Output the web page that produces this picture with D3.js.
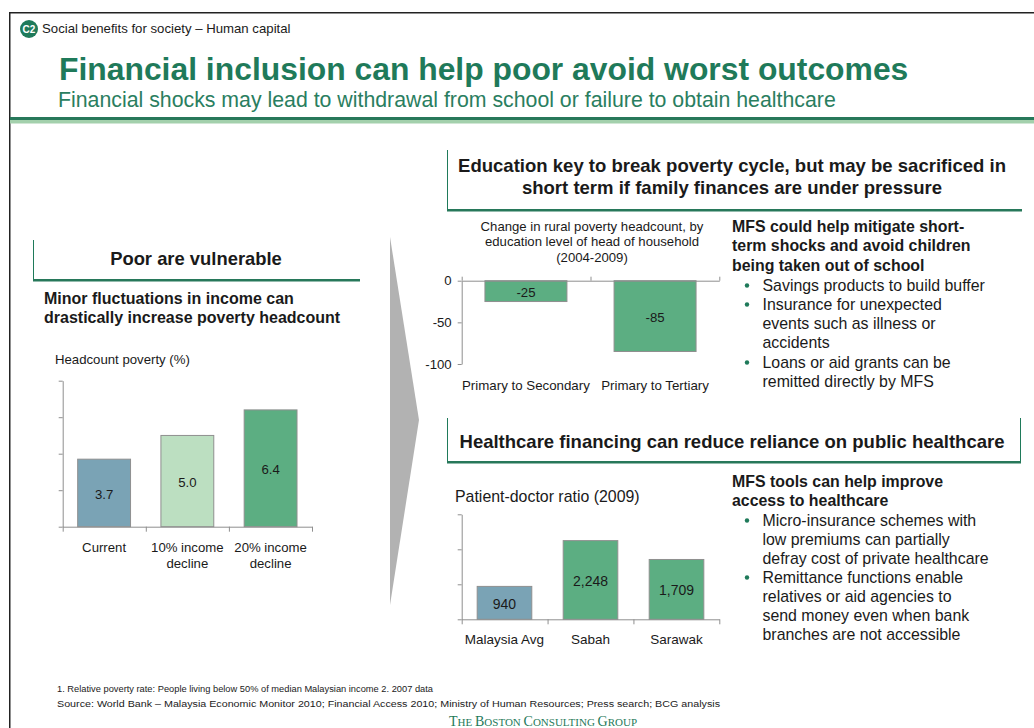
<!DOCTYPE html>
<html><head><meta charset="utf-8">
<script src="https://cdn.jsdelivr.net/npm/d3@7"></script>
<style>
html,body{margin:0;padding:0;background:#fff}
svg{display:block}
text{font-family:"Liberation Sans",Arial,sans-serif;fill:#1a1a1a}
</style></head><body><div id="c"></div>
<script>
// ---- data ----
const povertyCategories = [["Current"],["10% income","decline"],["20% income","decline"]];
const povertyValues = [3.7,5.0,6.4];
const povertyLabels = ["3.7","5.0","6.4"];
const povertyTicks = [0,2,4,6,8];
const eduCategories = ["Primary to Secondary","Primary to Tertiary"];
const eduValues = [-25,-85];
const eduTicks = [0,-50,-100];
const doctorCategories = ["Malaysia Avg","Sabah","Sarawak"];
const doctorValues = [940,2248,1709];
const doctorTicks = [0,1000,2000,3000];

const BLUE="#7aa3b5", LIGHT="#bcdfc1", GREEN="#5cae82", AXIS="#8f8f8f", DARK="#1f7a5a";

const svg=d3.select("#c").append("svg").attr("width",1034).attr("height",728);

function txt(x,y,s,size,o={}){
  const t=svg.append("text").attr("x",x).attr("y",y).attr("font-size",size).text(s)
    .attr("text-anchor",o.anchor||"start").attr("font-weight",o.bold?"bold":"normal");
  if(o.fill) t.style("fill",o.fill);
  if(o.len) t.attr("textLength",o.len).attr("lengthAdjust","spacingAndGlyphs");
  if(o.font) t.style("font-family",o.font);
  return t;
}
function rect(x,y,w,h,f){svg.append("rect").attr("x",x).attr("y",y).attr("width",w).attr("height",h).attr("fill",f);}

// frame and header
rect(9,12,1025,1.5,"#222"); rect(9,12,1.5,716,"#222");
rect(10,117,1024,3,"#27785a"); rect(10,120,1024,3.5,"#a3d0ac");
svg.append("circle").attr("cx",29).attr("cy",29).attr("r",9).attr("fill",DARK);
txt(29,32.5,"C2",10,{anchor:"middle",bold:true,fill:"#fff"});
txt(42,33,"Social benefits for society – Human capital",13.2);
txt(59,79.5,"Financial inclusion can help poor avoid worst outcomes",31.85,{bold:true,fill:DARK});
txt(58,106.5,"Financial shocks may lead to withdrawal from school or failure to obtain healthcare",21.3,{fill:"#2a7e60"});

// section heads
function head(x0,x1,y0,y1,right){
  rect(x0,y0,1,y1-y0,DARK); if(right) rect(x1-1,y0,1,y1-y0,DARK);
  rect(x0,y1-2,x1-x0,2.5,"#27785a");
}
head(33,360,240,281);
head(447,1022,150,211);
head(447,1021,418,463,true);
txt(196,265,"Poor are vulnerable",18.4,{anchor:"middle",bold:true});
txt(732,172,"Education key to break poverty cycle, but may be sacrificed in",18.55,{anchor:"middle",bold:true});
txt(732,194,"short term if family finances are under pressure",18.55,{anchor:"middle",bold:true});
txt(732,448,"Healthcare financing can reduce reliance on public healthcare",18.5,{anchor:"middle",bold:true});

// arrow
svg.append("path").attr("d",d3.line()([[390,237],[419,420],[390,605]])+"Z").attr("fill","#b2b2b2");

txt(44,304,"Minor fluctuations in income can",16,{bold:true});
txt(44,323,"drastically increase poverty headcount",16,{bold:true});

// side text
const lines1=[["MFS could help mitigate short-",231.5,1],["term shocks and avoid children",251,1],["being taken out of school",270.5,1],
 ["Savings products to build buffer",290.5,0,1],["Insurance for unexpected",309.5,0,1],["events such as illness or",328.5,0],["accidents",347.5,0],["Loans or aid grants can be",367.5,0,1],["remitted directly by MFS",386.5,0]];
const lines2=[["MFS tools can help improve",486.5,1],["access to healthcare",506,1],
 ["Micro-insurance schemes with",525.5,0,1],["low premiums can partially",544.5,0],["defray cost of private healthcare",563.5,0],
 ["Remittance functions enable",582.5,0,1],["relatives or aid agencies to",601.5,0],["send money even when bank",620.5,0],["branches are not accessible",639.5,0]];
lines1.concat(lines2).forEach(([s,y,b,bul])=>{
  if(b) txt(732,y,s,15.9,{bold:true});
  else { txt(762.5,y,s,15.9);
    if(bul) svg.append("circle").attr("cx",747).attr("cy",y-5).attr("r",2.2).attr("fill",DARK); }
});

function style(g){
  g.selectAll("path.domain").attr("stroke",AXIS).attr("stroke-width",1);
  g.selectAll(".tick line").attr("stroke",AXIS).attr("stroke-width",1);
  g.selectAll("text").style("font-family",'"Liberation Sans",Arial,sans-serif').style("fill","#1a1a1a");
}
function bars(x,y,vals,colors,labels,size){
  const base=y(0);
  svg.append("g").selectAll("rect").data(vals).join("rect")
    .attr("x",(d,i)=>x(i)).attr("width",x.bandwidth())
    .attr("y",d=>Math.min(y(d),base)).attr("height",d=>Math.abs(y(d)-base))
    .attr("fill",(d,i)=>colors[i]).attr("stroke",AXIS).attr("stroke-width",1);
  vals.forEach((d,i)=>txt(x(i)+x.bandwidth()/2,(y(d)+base)/2+6,labels[i],size,{anchor:"middle"}));
}
function catAxis(x0,x1,n,y,tick){
  const s=d3.scaleLinear().domain([0,n]).range([x0,x1]);
  const g=svg.append("g").attr("transform",`translate(0,${y})`)
    .call(d3.axisBottom(s).tickValues(d3.range(n+1)).tickFormat("").tickSize(tick).tickSizeOuter(0));
  style(g);
}
function valAxis(y,x,ticks,showLabels,size){
  const g=svg.append("g").attr("transform",`translate(${x},0)`)
    .call(d3.axisLeft(y).tickValues(ticks).tickSizeInner(4).tickSizeOuter(0).tickPadding(6)
      .tickFormat(showLabels?d=>String(d):""));
  g.selectAll("text").attr("font-size",size);
  style(g);
}
const band=(n,x0,x1)=>d3.scaleBand().domain(d3.range(n)).range([x0,x1]).paddingInner(0.365).paddingOuter(0.18);

// left chart
txt(55,364,"Headcount poverty (%)",13.2);
{
  const x=band(3,62.7,312), y=d3.scaleLinear().domain([0,8]).range([526.7,380.7]);
  bars(x,y,povertyValues,[BLUE,LIGHT,GREEN],povertyLabels,13.2);
  catAxis(62.7,312,3,526.7,5); valAxis(y,62.7,povertyTicks,false,12);
  povertyCategories.forEach((c,i)=>c.forEach((l,j)=>txt(x(i)+x.bandwidth()/2,552+j*15.5,l,13.2,{anchor:"middle"})));
}
// top-right chart
["Change in rural poverty headcount, by","education level of head of household","(2004-2009)"]
  .forEach((s,i)=>txt(592,230.5+i*15.7,s,13.15,{anchor:"middle"}));
{
  const x=band(2,461.7,719.3), y=d3.scaleLinear().domain([-100,0]).range([364,280.7]);
  bars(x,y,eduValues,[GREEN,GREEN],eduValues.map(String),13.2);
  catAxis(461.7,719.3,2,280.7,-4); valAxis(y,461.7,eduTicks,true,13.2);
  eduCategories.forEach((c,i)=>txt(x(i)+x.bandwidth()/2,390,c,13.3,{anchor:"middle"}));
}
// bottom-right chart
txt(455,502,"Patient-doctor ratio (2009)",15.9);
{
  const x=band(3,461.7,719.3), y=d3.scaleLinear().domain([0,3000]).range([619.3,514.3]);
  bars(x,y,doctorValues,[BLUE,GREEN,GREEN],doctorValues.map(d3.format(",")),14);
  catAxis(461.7,719.3,3,619.3,5); valAxis(y,461.7,doctorTicks,false,12);
  doctorCategories.forEach((c,i)=>txt(x(i)+x.bandwidth()/2,644,c,13.5,{anchor:"middle"}));
}
// footer
txt(57,692,"1. Relative poverty rate: People living below 50% of median Malaysian income 2. 2007 data",8.5,{len:376});
txt(57,706.5,"Source: World Bank – Malaysia Economic Monitor 2010; Financial Access 2010; Ministry of Human Resources; Press search; BCG analysis",8.5,{len:663});
const logo=svg.append("text").attr("x",449).attr("y",726)
  .style("font-family",'"Liberation Serif",serif').style("fill",DARK).attr("font-size",14);
[["T",14],["HE ",11],["B",14],["OSTON ",11],["C",14],["ONSULTING ",11],["G",14],["ROUP",11]].forEach(([s,z])=>logo.append("tspan").attr("font-size",z).text(s));
</script></body></html>
